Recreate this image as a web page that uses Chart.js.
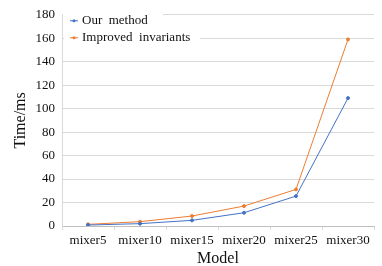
<!DOCTYPE html>
<html>
<head>
<meta charset="utf-8">
<script src="https://cdn.jsdelivr.net/npm/chart.js@4"></script>
<style>
  body { margin: 0; background: #fff; }
  canvas { display: block; }
</style>
</head>
<body>
<canvas id="chart" width="382" height="266"></canvas>
<script>
const models = ["mixer5", "mixer10", "mixer15", "mixer20", "mixer25", "mixer30"];
const ourMethod = [0.8, 2, 4.8, 11.3, 25.5, 109];
const improvedInvariants = [1.4, 3.7, 8.5, 17, 31.2, 159];
const yTicks = [0, 20, 40, 60, 80, 100, 120, 140, 160, 180];

const serif = "'Liberation Serif', 'DejaVu Serif', serif";

// legend drawn inside the plot, top left, like the original
const insideLegend = {
    id: "insideLegend",
    afterDraw(chart) {
        const ctx = chart.ctx;
        const area = chart.chartArea;
        const x0 = area.left + 2;
        const y0 = area.top + 1;
        ctx.save();
        ctx.fillStyle = "#fff";
        ctx.fillRect(area.left + 1, area.top - 1, 100, 4);
        ctx.fillRect(x0, y0, 136, 30);
        ctx.font = "13px " + serif;
        ctx.textBaseline = "middle";
        chart.data.datasets.forEach((ds, i) => {
            const y = y0 + 5 + i * 17;
            ctx.strokeStyle = ds.borderColor;
            ctx.lineWidth = 1;
            ctx.beginPath();
            ctx.moveTo(x0 + 6, y);
            ctx.lineTo(x0 + 14, y);
            ctx.stroke();
            ctx.fillStyle = ds.borderColor;
            ctx.beginPath();
            ctx.arc(x0 + 10, y, 1.5, 0, Math.PI * 2);
            ctx.fill();
            ctx.fillStyle = "#111";
            ctx.fillText(ds.label, x0 + 18, y);
        });
        ctx.restore();
    }
};

new Chart(document.getElementById("chart").getContext("2d"), {
    type: "line",
    data: {
        labels: models,
        datasets: [{
            label: "Our  method",
            data: ourMethod,
            borderColor: "#4472C4",
            backgroundColor: "#4472C4",
            borderWidth: 1,
            pointRadius: 1.5,
            tension: 0
        }, {
            label: "Improved  invariants",
            data: improvedInvariants,
            borderColor: "#ED7D31",
            backgroundColor: "#ED7D31",
            borderWidth: 1,
            pointRadius: 1.5,
            tension: 0
        }]
    },
    options: {
        responsive: false,
        animation: false,
        layout: { padding: { top: 14, right: 8, left: 0, bottom: 0 } },
        plugins: {
            legend: { display: false },
            tooltip: { enabled: false }
        },
        scales: {
            x: {
                offset: true,
                afterFit: s => { s.height = 40; },
                grid: {
                    offset: true,
                    drawOnChartArea: false,
                    drawTicks: true,
                    tickLength: 4,
                    color: "#d9d9d9"
                },
                border: { color: "#bfbfbf" },
                ticks: {
                    color: "#111",
                    padding: 3,
                    maxRotation: 0,
                    autoSkip: false,
                    font: { family: serif, size: 13 }
                },
                title: {
                    display: true,
                    text: "Model",
                    color: "#111",
                    padding: { top: 0, bottom: -2 },
                    font: { family: serif, size: 16 }
                }
            },
            y: {
                min: 0,
                max: 180,
                afterFit: s => { s.width = 62; },
                afterBuildTicks: s => { s.ticks = yTicks.map(v => ({ value: v })); },
                grid: { color: "#d9d9d9", drawTicks: false },
                border: { color: "#d9d9d9" },
                ticks: {
                    color: "#111",
                    padding: 7,
                    font: { family: serif, size: 13 }
                },
                title: {
                    display: true,
                    text: "Time/ms",
                    color: "#111",
                    padding: { top: 11, bottom: 0 },
                    font: { family: serif, size: 16 }
                }
            }
        }
    },
    plugins: [insideLegend]
});
</script>
</body>
</html>
